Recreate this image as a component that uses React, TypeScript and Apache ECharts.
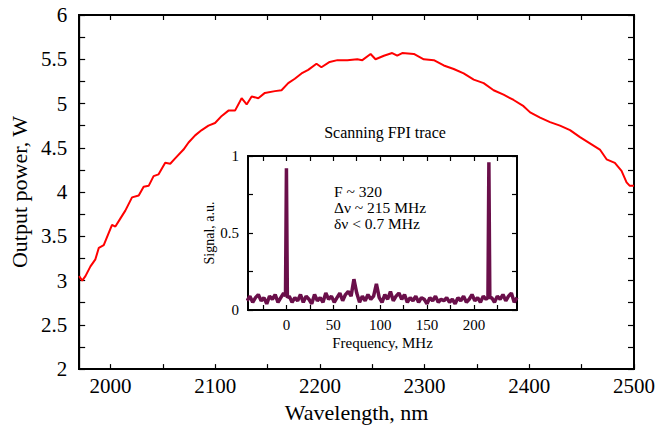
import React, { useEffect, useRef } from "react";
import * as echarts from "echarts";

// Main curve: wavelength (nm) vs output power (W)
const wavelengths = [
  1970, 1972.9, 1976, 1980.8, 1985.5, 1988.8, 1993.5, 2001.4, 2004.6, 2009.3,
  2014.1, 2020.5, 2026.9, 2031.6, 2036.4, 2041.1, 2045.9, 2052.2, 2057, 2061.7,
  2069.7, 2074.5, 2080.8, 2087.1, 2093.5, 2099.8, 2106.2, 2112.6, 2118.9, 2125.2,
  2130, 2134.8, 2141.1, 2147.4, 2157, 2163.3, 2169.7, 2176, 2182.4, 2188.8,
  2196.7, 2201.4, 2209.3, 2216.7, 2226.2, 2235.7, 2240.5, 2248.4, 2253.1, 2261.1,
  2269, 2273.8, 2278.6, 2289.7, 2299.2, 2308.8, 2318.3, 2327.8, 2337.3, 2346.9,
  2356.4, 2365.9, 2375.4, 2385, 2394.5, 2400.8, 2410.3, 2419.8, 2429.3, 2438.9,
  2448.4, 2457.9, 2467.4, 2473.8, 2481.7, 2488.1, 2492.9, 2496, 2500,
];
const powers = [
  3.05, 3.0, 3.05, 3.16, 3.24, 3.37, 3.4, 3.63, 3.61, 3.7,
  3.79, 3.94, 3.96, 4.06, 4.07, 4.18, 4.2, 4.33, 4.32, 4.38,
  4.48, 4.56, 4.64, 4.7, 4.75, 4.78, 4.86, 4.92, 4.92, 5.06,
  4.99, 5.08, 5.06, 5.12, 5.14, 5.15, 5.23, 5.28, 5.34, 5.38,
  5.45, 5.41, 5.47, 5.49, 5.49, 5.5, 5.49, 5.56, 5.5, 5.54,
  5.57, 5.54, 5.57, 5.56, 5.5, 5.49, 5.43, 5.39, 5.34, 5.27,
  5.23, 5.15, 5.1, 5.04, 4.97, 4.9, 4.84, 4.79, 4.75, 4.7,
  4.62, 4.55, 4.48, 4.37, 4.33, 4.24, 4.11, 4.07, 4.07,
];

// Inset: scanning FPI trace
const freqs = [
  -42, -39, -36, -33, -30, -27, -24, -21, -18, -15, -12, -9, -6, -3, -1, 0, 1, 3, 6, 9, 12, 15,
  18, 21, 24, 27, 30, 33, 36, 39, 42, 45, 48, 51, 54, 57, 60, 63, 66, 69, 72, 75,
  78, 81, 84, 87, 90, 93, 96, 99, 102, 105, 108, 111, 114, 117, 120, 123, 126, 129, 132, 135,
  138, 141, 144, 147, 150, 153, 156, 159, 162, 165, 168, 171, 174, 177, 180, 183, 186, 189, 192, 195,
  198, 201, 204, 207, 210, 213, 215, 216, 217, 219, 222, 225, 228, 231, 234, 237, 240, 243, 246,
];
const signal = [
  0.06, 0.09, 0.05, 0.08, 0.1, 0.06, 0.08, 0.04, 0.09, 0.07, 0.1, 0.05, 0.08, 0.11, 0.09, 0.92, 0.08, 0.09, 0.05, 0.08, 0.06, 0.1,
  0.05, 0.09, 0.07, 0.04, 0.1, 0.06, 0.08, 0.05, 0.11, 0.07, 0.09, 0.05, 0.08, 0.11, 0.06, 0.1, 0.12, 0.09, 0.2, 0.11,
  0.05, 0.09, 0.06, 0.1, 0.07, 0.09, 0.17, 0.08, 0.05, 0.1, 0.07, 0.12, 0.06, 0.09, 0.11, 0.07, 0.1, 0.05, 0.08, 0.06,
  0.09, 0.05, 0.08, 0.07, 0.04, 0.08, 0.06, 0.09, 0.05, 0.07, 0.06, 0.08, 0.05, 0.07, 0.04, 0.08, 0.06, 0.09, 0.05, 0.07,
  0.1, 0.06, 0.08, 0.05, 0.09, 0.07, 0.08, 0.96, 0.08, 0.08, 0.05, 0.09, 0.07, 0.1, 0.06, 0.09, 0.11, 0.05, 0.08,
];

const mainXTicks = [2000, 2050, 2100, 2150, 2200, 2250, 2300, 2350, 2400, 2450, 2500];
const mainXLabels = [2000, 2100, 2200, 2300, 2400, 2500];
const mainYLabels = [2, 2.5, 3, 3.5, 4, 4.5, 5, 5.5, 6];
const insetXTicks = [-25, 0, 25, 50, 75, 100, 125, 150, 175, 200, 225];
const insetXLabels = [0, 50, 100, 150, 200];
const insetYLabels = [0, 0.5, 1];

const FONT = "Liberation Serif";

export default function App() {
  const ref = useRef<HTMLDivElement>(null);
  useEffect(() => {
    if (!ref.current) return;
    const chart = echarts.init(ref.current, null, { renderer: "svg" });
    const line = () => ({ show: true, onZero: false, lineStyle: { color: "#000", width: 2 } });
    const tickIn = (len: number, vals?: number[]) => {
      const t: any = { show: true, inside: true, length: len, lineStyle: { color: "#000", width: 1.2 } };
      if (vals) t.customValues = vals;
      return t;
    };
    const fmt = (v: number) => String(v);
    const mainX = { type: "value", min: 1970, max: 2500, gridIndex: 0 };
    const mainY = { type: "value", min: 2, max: 6, interval: 0.25, gridIndex: 0 };
    const inX = { type: "value", min: -41, max: 246, gridIndex: 1 };
    const inY = { type: "value", min: 0, max: 1, interval: 0.25, gridIndex: 1 };
    chart.setOption({
      animation: false,
      backgroundColor: "#fff",
      grid: [
        { left: 77, top: 15, width: 557, height: 363, show: true, borderColor: "#000", borderWidth: 2, backgroundColor: "transparent" },
        { left: 248, top: 156, width: 269, height: 154, show: true, backgroundColor: "#fff", borderColor: "#000", borderWidth: 1.5 },
      ],
      xAxis: [
        {
          ...mainX, position: "bottom", axisLine: line(), axisTick: tickIn(5, mainXTicks), splitLine: { show: false },
          axisLabel: { customValues: mainXLabels, formatter: fmt, fontFamily: FONT, fontSize: 21, color: "#000", margin: 6 },
          name: "Wavelength, nm", nameLocation: "middle", nameGap: 26,
          nameTextStyle: { fontFamily: FONT, fontSize: 22, color: "#000" },
        },
        { ...mainX, position: "top", axisLine: line(), axisTick: tickIn(5, mainXTicks), axisLabel: { show: false }, splitLine: { show: false } },
        {
          ...inX, position: "bottom", axisLine: line(), axisTick: tickIn(5, insetXTicks), splitLine: { show: false },
          axisLabel: { customValues: insetXLabels, formatter: fmt, fontFamily: FONT, fontSize: 15, color: "#000", margin: 7 },
          name: "Frequency, MHz", nameLocation: "middle", nameGap: 25,
          nameTextStyle: { fontFamily: FONT, fontSize: 15, color: "#000" },
        },
        { ...inX, position: "top", axisLine: line(), axisTick: tickIn(5, insetXTicks), axisLabel: { show: false }, splitLine: { show: false } },
      ],
      yAxis: [
        {
          ...mainY, position: "left", axisLine: line(), axisTick: tickIn(6), splitLine: { show: false },
          axisLabel: { customValues: mainYLabels, formatter: fmt, fontFamily: FONT, fontSize: 21, color: "#000", margin: 12 },
          name: "Output power, W", nameLocation: "middle", nameGap: 46,
          nameTextStyle: { fontFamily: FONT, fontSize: 22, color: "#000" },
        },
        { ...mainY, position: "right", axisLine: line(), axisTick: tickIn(6), axisLabel: { show: false }, splitLine: { show: false } },
        {
          ...inY, position: "left", axisLine: line(), axisTick: tickIn(5), splitLine: { show: false },
          axisLabel: { customValues: insetYLabels, formatter: fmt, fontFamily: FONT, fontSize: 15, color: "#000", margin: 9 },
          name: "Signal, a.u.", nameLocation: "middle", nameGap: 30,
          nameTextStyle: { fontFamily: FONT, fontSize: 14, color: "#000" },
        },
        { ...inY, position: "right", axisLine: line(), axisTick: tickIn(5), axisLabel: { show: false }, splitLine: { show: false } },
      ],
      series: [
        {
          type: "line", xAxisIndex: 0, yAxisIndex: 0, showSymbol: false, symbol: "none",
          data: wavelengths.map((w, i) => [w, powers[i]]),
          lineStyle: { color: "#ff0000", width: 2 },
        },
        {
          type: "line", xAxisIndex: 2, yAxisIndex: 2, showSymbol: false, symbol: "none", clip: true,
          data: freqs.map((f, i) => [f, signal[i]]),
          lineStyle: { color: "#6a0f4a", width: 3.5 },
        },
      ],
      graphic: [
        {
          type: "text", x: 385, y: 132,
          style: { text: "Scanning FPI trace", fontFamily: FONT, fontSize: 16, fill: "#000", align: "center", verticalAlign: "middle" },
        },
        {
          type: "text", x: 334, y: 183,
          style: {
            text: "F ~ 320\nΔν ~ 215 MHz\nδν < 0.7 MHz",
            fontFamily: FONT, fontSize: 15.5, lineHeight: 16.2, fill: "#000",
          },
        },
      ],
    });
    return () => chart.dispose();
  }, []);
  return <div ref={ref} style={{ position: "fixed", left: 0, top: 0, width: 671, height: 428 }} />;
}
